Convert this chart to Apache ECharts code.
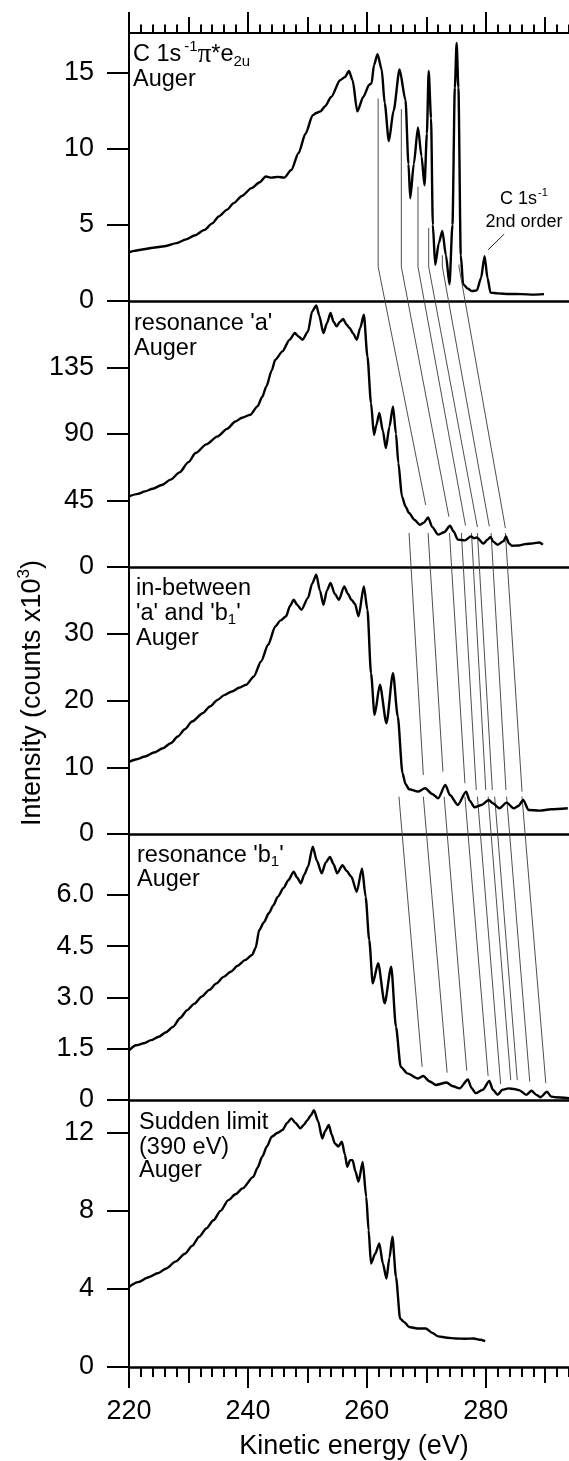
<!DOCTYPE html>
<html>
<head>
<meta charset="utf-8">
<script src="https://cdn.jsdelivr.net/npm/echarts@6/dist/echarts.min.js"></script>
<style>
  html, body { margin: 0; padding: 0; background: #fff; }
  #main { width: 569px; height: 1461px; }
</style>
</head>
<body>
<div id="main"></div>
<script>
// ---- Spectra: kinetic energy (eV) and intensity (counts x10^3) ----
// C 1s^-1 pi* e2u Auger
const energyPi = [220.0,221,222.5,224,226,228,229.6,231,232.7,234,235.1,236.5,237.6,239,240.6,242,243,244,245,246.1,247.3,248.5,249.7,250.9,251.5,252.2,253,254,255.5,256.3,257,257.6,258.4,259.4,260.4,260.8,261.2,261.8,262.5,263,263.7,264.5,265.5,266.5,267,267.3,267.9,268.6,269.2,269.7,270.1,270.4,270.8,271.1,271.5,272.1,272.7,273.3,273.9,274.4,274.8,275.1,275.4,275.8,276.2,277,277.7,278.5,279.2,279.8,280.3,280.8,282,284,286,288,289.8];
const countsPi = [3.2,3.3,3.4,3.5,3.6,3.8,4.05,4.3,4.67,5.1,5.55,6.0,6.43,6.9,7.41,7.8,8.18,8.1,8.15,8.1,8.6,9.7,11.0,12.2,12.35,12.45,12.8,13.4,14.5,14.7,15.1,14.5,12.45,13.4,14.2,14.3,15.5,16.2,15.2,13,10.5,12.5,15.2,13.2,9,6.75,9,11.4,9.5,7.6,11,15.1,12,5,2.37,3.8,4.6,3,1.1,5,14,16.95,14,3,1.1,0.8,0.65,0.7,1.5,2.95,1.5,0.55,0.5,0.46,0.45,0.42,0.45];

// resonance 'a' Auger
const energyA = [220,221.5,222.7,224,225.5,227,228.5,230,231.2,233,234.9,236.5,237.9,239,240.4,241.6,242.4,243.1,244,244.6,245.8,247,247.9,248.5,249.2,250.1,250.8,251.5,252,252.7,253.3,253.9,254.4,254.9,255.5,256,256.6,257.1,257.7,258.3,258.9,259.5,260.1,260.7,261.2,261.6,262.1,262.7,263.2,263.8,264.4,264.9,265.3,265.9,266.5,267.1,268,268.9,269.6,270.3,271,272,273,274,274.6,275.3,276.5,277.5,278,278.5,279.6,280.3,280.8,281.3,282,283,283.4,283.9,284.4,285.5,286.6,288,289,289.6];
const countsA = [47.8,49.5,51.2,53,55.5,59.1,64,71,77.1,83,88.4,93.5,98.5,101,103,108.7,115,122.2,133,140.3,145.9,153.8,158.3,156,153.8,159.4,173,177,170,158.3,165,171.9,166,162.8,166,167.8,164,161.7,158,153.8,162,170.7,142.5,111,89.5,96,104.2,92,80.5,95,108.7,90,70.4,47.8,41,36.5,32,28.6,30,33.6,27,21.9,23.5,27.9,24,18.5,18,20.7,19.5,20,15.8,18.5,20.3,17,15.1,17.5,20.7,16,14.4,14.5,15.5,16,16.6,15.1];

// in-between 'a' and 'b1' Auger
const energyAB = [220,221.3,222.7,224.2,225.7,227,228.2,229.4,230.6,232.4,233.6,234.9,236,237.3,238.5,239.7,241,242.2,243.4,244.6,245.5,246.4,247.1,247.7,248.3,249,250.1,250.8,251.5,252.1,252.7,253.3,253.9,254.6,255.3,256.2,256.8,257.4,258,258.6,259.5,260.1,260.7,261.3,262.2,263.3,264.4,265.2,266,266.5,267.1,268.6,269.8,271,272,273.2,274,275.3,276.7,277.3,278.1,279.3,280.5,281.2,282.3,283.5,284.7,285.5,286.3,287.2,289,291,293.8];
const countsAB = [10.8,11.2,11.6,12.2,12.85,13.6,14.6,15.7,16.85,18.1,19.1,20.1,20.8,21.35,21.9,22.35,23.6,25.85,28.35,31.1,32.0,32.6,34.2,35.1,34.3,33.6,35.35,37.5,38.85,36.5,34.35,36.5,37.6,36,35.1,37.1,36,35.1,34.5,32.6,37.1,33.6,24.1,17.85,22.35,16.6,24.1,17.6,9.1,7.5,6.7,6.35,6.85,6,5.35,7.35,5.8,4.35,6.35,5,4.0,4.35,5.1,4.6,3.85,4.7,3.85,4.2,5.1,3.6,3.5,3.7,3.85];

// resonance 'b1' Auger
const energyB = [220,221.2,222.5,223.7,225,226.2,227.4,228.6,229.8,231,232.2,233.5,234.7,235.9,237.1,238.3,239.5,240.7,241.3,241.9,242.7,243.5,244.3,245,246,246.8,247.7,248.3,248.9,249.5,250.1,250.9,251.6,252.4,253.1,253.8,254.4,255,255.9,256.6,257.4,258.3,259.2,259.8,260.4,261,261.9,263,264.1,264.9,265.7,266.8,268.6,269.5,270.5,271.6,273.4,274.5,275.6,277,277.6,278.3,279.5,280.6,281.2,282,282.8,283.8,284.8,285.6,286.8,287.7,288.5,289.2,290.3,291,291.7,294];
const countsB = [1.45,1.6,1.66,1.75,1.85,1.98,2.14,2.4,2.63,2.82,3.02,3.22,3.41,3.6,3.75,3.93,4.09,4.24,4.45,4.97,5.2,5.46,5.7,5.94,6.2,6.43,6.68,6.5,6.34,6.6,6.82,7.41,7.0,6.63,6.95,7.11,6.9,6.63,6.87,6.7,6.53,6.09,6.77,5.94,4.68,3.41,4.0,2.83,3.9,2.14,0.97,0.78,0.63,0.70,0.55,0.44,0.51,0.4,0.34,0.6,0.35,0.2,0.3,0.56,0.3,0.15,0.3,0.34,0.32,0.29,0.15,0.27,0.15,0.08,0.24,0.1,0.08,0.05];

// Sudden limit (390 eV) Auger
const energySud = [220,221.5,223.3,224.8,226.3,227.8,229.4,230.6,231.8,233,234.2,235.4,236.7,237.9,239.1,240.9,241.6,242.4,243.2,244,245,245.8,246.6,247.3,248,248.8,249.4,250,250.6,251.1,251.8,252.5,253,253.6,254.1,254.6,255.2,255.8,256.3,256.7,257.2,257.6,258.1,258.6,259.3,259.9,260.3,260.7,261.4,262.1,262.7,263.3,263.8,264.3,264.9,265.6,266.3,267.1,268.5,269.9,271,272,273.5,275,276.5,278,279,279.9];
const countsSud = [4.1,4.35,4.6,4.8,5.05,5.4,5.8,6.2,6.67,7.1,7.52,8.0,8.55,8.85,9.15,9.74,10.2,10.77,11.3,11.8,12.0,12.14,12.5,12.74,12.5,12.23,12.4,12.65,12.9,13.16,12.6,11.71,12.1,12.4,11.9,11.46,11.3,11.54,10.9,10.26,10.6,10.6,10.0,9.49,10.51,8.72,7,5.3,5.8,6.33,5.3,4.53,5.6,6.67,4.62,2.48,2.3,2.05,1.97,1.97,1.75,1.57,1.5,1.46,1.45,1.46,1.4,1.33];

// ---- Axis scales ----
const energyMin = 220, energyMax = 294;
const yMax = [17.6, 180, 40, 7.78, 13.68];
const yTicks = [[0, 5, 10, 15], [0, 45, 90, 135], [0, 10, 20, 30], [0, 1.5, 3, 4.5, 6], [0, 4, 8, 12]];
const majorTicks = [220, 240, 260, 280];
const midTicks = [230, 250, 270, 290];
const minorTicks = [];
for (let e = 220; e <= 294; e += 2) minorTicks.push(e);

// ---- Peak-correlation guide lines (energy, intensity) ----
// panel 1 -> panel 2: vertical drop from each peak, then a slanted run
const guide12TopE = [261.9, 265.8, 268.6, 270.4, 272.7, 275.5];
const guide12TopV = [13.3, 12.6, 7.5, 4.8, 3.0, 2.4];
const guide12BendV = 2.25;
const guide12EndE = [269.9, 273.8, 276.6, 278.6, 280.6, 283.3];
const guide12EndV = [42, 34, 28, 27, 27.5, 26.4];
// panel 2 -> panel 3
const guide23TopE = [267.1, 270.3, 273.9, 275.9, 277.6, 278.6, 280.9, 283.3];
const guide23TopV = 23;
const guide23EndE = [269.5, 272.8, 276.5, 278.4, 280.0, 281.1, 283.4, 286.1];
const guide23EndV = [8.85, 9.35, 7.6, 6.6, 6.6, 6.6, 6.6, 6.35];
// panel 3 -> panel 4
const guide34TopE = [265.4, 269.5, 273.0, 276.5, 278.6, 280.4, 281.5, 283.5, 286.1];
const guide34TopV = 5.6;
const guide34EndE = [269.3, 273.5, 276.8, 280.4, 282.5, 284.2, 285.3, 287.4, 290.1];
const guide34EndV = [0.97, 0.8, 0.86, 0.7, 0.47, 0.58, 0.58, 0.54, 0.49];

// leader for the second-order C 1s^-1 photoline label (panel 1 coordinates)
const leaderE = [280.4, 283.1];
const leaderV = [3.36, 4.4];

// ---- Layout ----
const SANS = '"Liberation Sans", Arial, Helvetica, sans-serif';
const SERIF = '"Liberation Serif", "Times New Roman", serif';
const gridLeft = 129;
const gridTops = [33, 301, 567, 834, 1100];
const gridHeights = [268, 266, 267, 266, 267];
const spectra = [[energyPi, countsPi], [energyA, countsA], [energyAB, countsAB], [energyB, countsB], [energySud, countsSud]];

const toPairs = (xs, ys) => xs.map((x, i) => [x, ys[i]]);
const black = '#000';

const grids = gridTops.map((t, i) => ({ left: gridLeft, right: 0, top: t, height: gridHeights[i] }));

function baseX(gridIndex, extra) {
  return Object.assign({
    type: 'value', gridIndex: gridIndex, min: energyMin, max: energyMax, position: 'bottom',
    axisLine: { show: false, onZero: false, lineStyle: { color: black, width: 2.5 } },
    axisTick: { show: false }, axisLabel: { show: false }, splitLine: { show: false }
  }, extra);
}

const xAxes = [];
for (let i = 0; i < 5; i++) {
  xAxes.push(baseX(i, { axisLine: { show: true, onZero: false, lineStyle: { color: black, width: 2.5 } } }));
}
// top frame of the first panel with outward ticks
xAxes.push(baseX(0, { position: 'top', axisLine: { show: true, onZero: false, lineStyle: { color: black, width: 2 } },
  axisTick: { show: true, inside: false, customValues: minorTicks, length: 8.5, lineStyle: { color: black, width: 2 } } }));
xAxes.push(baseX(0, { position: 'top', axisTick: { show: true, customValues: midTicks, length: 16, lineStyle: { color: black, width: 2 } } }));
xAxes.push(baseX(0, { position: 'top', axisTick: { show: true, customValues: majorTicks, length: 21, lineStyle: { color: black, width: 2 } } }));
// bottom energy scale
xAxes.push(baseX(4, { axisTick: { show: true, customValues: minorTicks, length: 10, lineStyle: { color: black, width: 2 } } }));
xAxes.push(baseX(4, { axisTick: { show: true, customValues: midTicks, length: 16, lineStyle: { color: black, width: 2 } } }));
xAxes.push(baseX(4, { axisTick: { show: true, customValues: majorTicks, length: 21, lineStyle: { color: black, width: 2 } },
  axisLabel: { show: true, customValues: majorTicks, margin: 31, fontSize: 27, fontFamily: SANS, color: black } }));

const yAxes = yMax.map((m, i) => ({
  type: 'value', gridIndex: i, min: 0, max: m, position: 'left',
  axisLine: { show: true, onZero: false, lineStyle: { color: black, width: 2 } },
  axisTick: { show: true, customValues: yTicks[i], length: 22, lineStyle: { color: black, width: 2 } },
  axisLabel: { show: true, customValues: yTicks[i], margin: 35, fontSize: 27, fontFamily: SANS, color: black,
    formatter: v => (i === 3 && v !== 0) ? v.toFixed(1) : String(v) },
  splitLine: { show: false }
}));

const series = spectra.map((s, i) => ({
  type: 'line', xAxisIndex: i, yAxisIndex: i, data: toPairs(s[0], s[1]),
  showSymbol: false, symbol: 'none', animation: false, clip: true, z: 5,
  smooth: 0.25, smoothMonotone: 'x',
  lineStyle: { color: black, width: 2.4, join: 'round' }
}));

const chart = echarts.init(document.getElementById('main'));
chart.setOption({
  backgroundColor: '#fff', animation: false,
  grid: grids, xAxis: xAxes, yAxis: yAxes, series: series
});

// ---- Overlay: guide lines and panel captions ----
const px = (panel, e, v) => chart.convertToPixel({ gridIndex: panel }, [e, v]);
const guideStyle = { stroke: '#3a3a3a', lineWidth: 0.9, fill: null };
const graphics = [];
guide12TopE.forEach((e, k) => {
  graphics.push({ type: 'polyline', z: 3, silent: true, shape: { points: [
    px(0, e, guide12TopV[k]), px(0, e, guide12BendV), px(1, guide12EndE[k], guide12EndV[k])] }, style: guideStyle });
});
guide23TopE.forEach((e, k) => {
  graphics.push({ type: 'polyline', z: 3, silent: true, shape: { points: [
    px(1, e, guide23TopV), px(2, guide23EndE[k], guide23EndV[k])] }, style: guideStyle });
});
guide34TopE.forEach((e, k) => {
  graphics.push({ type: 'polyline', z: 3, silent: true, shape: { points: [
    px(2, e, guide34TopV), px(3, guide34EndE[k], guide34EndV[k])] }, style: guideStyle });
});
graphics.push({ type: 'polyline', z: 3, silent: true, shape: { points: [
  px(0, leaderE[0], leaderV[0]), px(0, leaderE[1], leaderV[1])] }, style: { stroke: '#222', lineWidth: 1, fill: null } });

// text runs with super/subscripts
const measure = document.createElement('canvas').getContext('2d');
function widthOf(str, size, fam) { measure.font = size + 'px ' + fam; return measure.measureText(str).width; }
function run(x, y, parts, align) {
  const fams = parts.map(p => p.fam || SANS);
  const total = parts.reduce((w, p, i) => w + widthOf(p.t, p.s, fams[i]) + (p.gap || 0), 0);
  let cx = align === 'center' ? x - total / 2 : x;
  parts.forEach((p, i) => {
    cx += (p.gap || 0);
    graphics.push({ type: 'text', z: 10, silent: true, x: cx, y: y + (p.dy || 0),
      style: { text: p.t, font: p.s + 'px ' + fams[i], fill: black, textAlign: 'left', textVerticalAlign: 'middle' } });
    cx += widthOf(p.t, p.s, fams[i]);
  });
}
const cap = 23.5, sub = 15;
run(133, 55, [{ t: 'C 1s', s: cap }, { t: '-1', s: sub, dy: -8, gap: 3 }, { t: 'π', s: 27, fam: SERIF }, { t: '*e', s: cap }, { t: '2u', s: sub, dy: 7 }]);
run(133, 80, [{ t: 'Auger', s: cap }]);
run(134, 324, [{ t: "resonance 'a'", s: cap }]);
run(134, 349, [{ t: 'Auger', s: cap }]);
run(136, 589, [{ t: 'in-between', s: cap }]);
run(136, 614, [{ t: "'a' and 'b", s: cap }, { t: '1', s: sub, dy: 6 }, { t: "'", s: cap }]);
run(136, 639, [{ t: 'Auger', s: cap }]);
run(137, 856, [{ t: "resonance 'b", s: cap }, { t: '1', s: sub, dy: 6 }, { t: "'", s: cap }]);
run(137, 880, [{ t: 'Auger', s: cap }]);
run(139, 1123, [{ t: 'Sudden limit', s: cap }]);
run(139, 1148, [{ t: '(390 eV)', s: cap }]);
run(139, 1171, [{ t: 'Auger', s: cap }]);
run(524, 199, [{ t: 'C 1s', s: 18 }, { t: '-1', s: 11, dy: -6, gap: 1 }], 'center');
run(524, 222, [{ t: '2nd order', s: 18 }], 'center');

// axis titles
graphics.push({ type: 'text', z: 10, silent: true, x: 354, y: 1447,
  style: { text: 'Kinetic energy (eV)', font: '27px ' + SANS, fill: black, textAlign: 'center', textVerticalAlign: 'middle' } });
// vertical title, built from pieces so the exponent can be raised
(function () {
  const size = 27, supSize = 17;
  const main = 'Intensity (counts x10', tail = ')';
  const wMain = widthOf(main, size, SANS), wSup = widthOf('3', supSize, SANS), wTail = widthOf(tail, size, SANS);
  const total = wMain + wSup + wTail;
  const cx = 33, cy = 693;
  let along = cy + total / 2; // text runs bottom -> top
  const piece = (t, s, off, w) => {
    graphics.push({ type: 'text', z: 10, silent: true, x: cx + off, y: along, rotation: Math.PI / 2,
      style: { text: t, font: s + 'px ' + SANS, fill: black, textAlign: 'left', textVerticalAlign: 'middle' } });
    along -= w;
  };
  piece(main, size, 0, wMain);
  piece('3', supSize, -9, wSup);
  piece(tail, size, 0, wTail);
})();

chart.setOption({ graphic: { elements: graphics } });
</script>
</body>
</html>
